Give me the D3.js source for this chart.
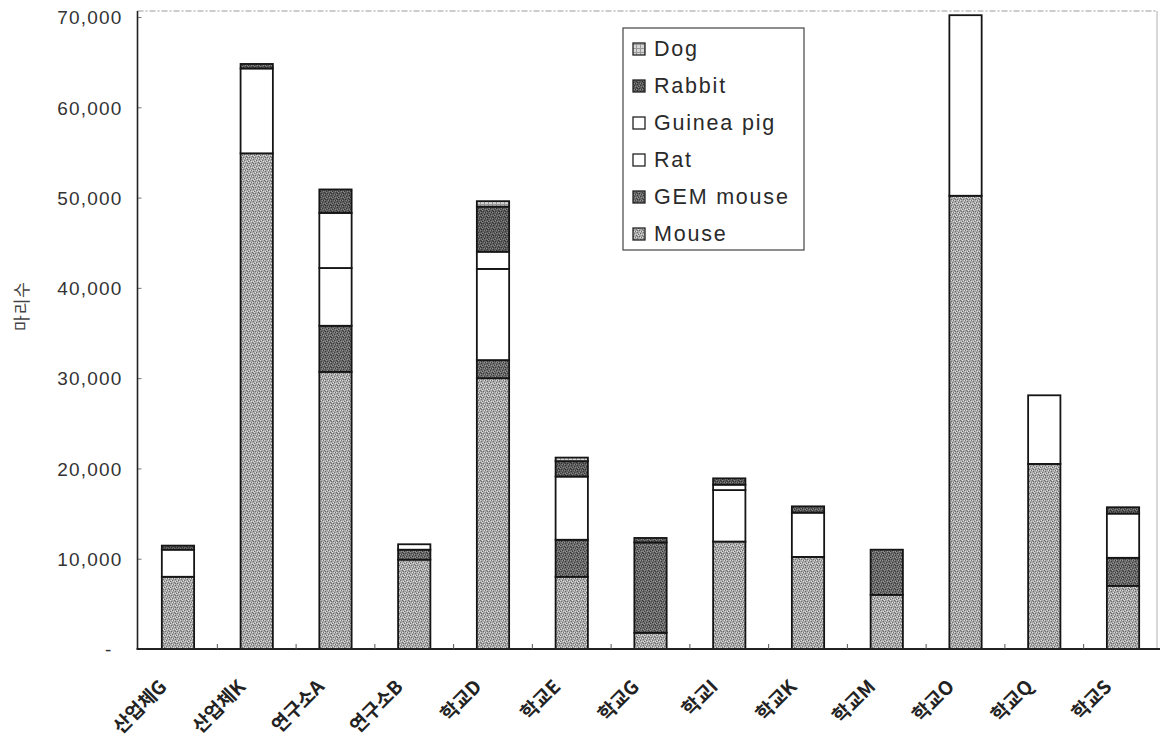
<!DOCTYPE html>
<html>
<head>
<meta charset="utf-8">
<script src="https://cdn.jsdelivr.net/npm/d3@7"></script>
<style>
  body { margin: 0; background: #fff; }
  svg { display: block; }
</style>
</head>
<body>
<svg id="chart" width="1160" height="746"></svg>
<script>
// Laboratory animals used per institution (head count), stacked by species
const categories = ["산업체G", "산업체K", "연구소A", "연구소B", "학교D", "학교E", "학교G",
                    "학교I", "학교K", "학교M", "학교O", "학교Q", "학교S"];
const mouse     = [8000, 54900, 30700, 9900, 30000, 8000, 1800, 11900, 10200, 6000, 50200, 20500, 7000];
const gemMouse  = [0, 0, 5100, 1100, 2000, 4100, 10000, 0, 0, 5000, 0, 0, 3100];
const rat       = [3000, 9400, 6400, 600, 10100, 7000, 0, 5700, 4900, 0, 20000, 7600, 4900];
const guineaPig = [0, 0, 6100, 0, 1900, 0, 0, 600, 0, 0, 0, 0, 0];
const rabbit    = [450, 500, 2600, 0, 5000, 1700, 500, 700, 700, 0, 0, 0, 700];
const dog       = [0, 0, 0, 0, 600, 400, 0, 0, 0, 0, 0, 0, 0];

const seriesKeys = ["Mouse", "GEM mouse", "Rat", "Guinea pig", "Rabbit", "Dog"];
const seriesValues = [mouse, gemMouse, rat, guineaPig, rabbit, dog];
const yTicks = [0, 10000, 20000, 30000, 40000, 50000, 60000, 70000];
const yTitle = "마리수";

const table = categories.map((c, i) => {
  const row = { category: c };
  seriesKeys.forEach((k, j) => { row[k] = seriesValues[j][i]; });
  return row;
});

const svg = d3.select("#chart");

const x = d3.scaleBand()
  .domain(categories)
  .range([138.6, 1162.4])
  .paddingInner(0.59)
  .paddingOuter(0.295);

const y = d3.scaleLinear().domain([0, 70000]).range([649, 17]);

// ---- fill textures (stippled greys like a printed chart) ----
const defs = svg.append("defs");
function stipple(id, base, dark, light) {
  const p = defs.append("pattern")
    .attr("id", id).attr("patternUnits", "userSpaceOnUse")
    .attr("width", 6).attr("height", 6);
  p.append("rect").attr("width", 6).attr("height", 6).attr("fill", base);
  [[0,0],[3,1],[1,3],[4,4],[2,5],[5,2],[1,1]].forEach(([a,b]) =>
    p.append("rect").attr("x", a).attr("y", b).attr("width", 1).attr("height", 1).attr("fill", dark));
  [[2,0],[0,2],[4,2],[3,4],[1,5],[5,5]].forEach(([a,b]) =>
    p.append("rect").attr("x", a).attr("y", b).attr("width", 1).attr("height", 1).attr("fill", light));
}
stipple("pMouse", "#a9a9a9", "#6c6c6c", "#dedede");
stipple("pGem", "#6a6a6a", "#3a3a3a", "#969696");
stipple("pRabbit", "#5c5c5c", "#333333", "#888888");
(function dogPattern() {
  const p = defs.append("pattern")
    .attr("id", "pDog").attr("patternUnits", "userSpaceOnUse")
    .attr("width", 4).attr("height", 4);
  p.append("rect").attr("width", 4).attr("height", 4).attr("fill", "#d6d6d6");
  p.append("rect").attr("width", 4).attr("height", 1).attr("fill", "#9a9a9a");
  p.append("rect").attr("width", 1).attr("height", 4).attr("fill", "#9a9a9a");
})();

const fills = {
  "Mouse": "url(#pMouse)",
  "GEM mouse": "url(#pGem)",
  "Rat": "#ffffff",
  "Guinea pig": "#ffffff",
  "Rabbit": "url(#pRabbit)",
  "Dog": "url(#pDog)"
};

// ---- plot frame ----
const frameTop = 11, frameLeft = 137.5, frameRight = 1157, baseY = 649;
svg.append("line").attr("x1", frameLeft).attr("x2", frameRight)
  .attr("y1", frameTop).attr("y2", frameTop)
  .attr("stroke", "#9a9a9a").attr("stroke-width", 1.2).attr("stroke-dasharray", "6 2 2 2");
svg.append("line").attr("x1", frameRight).attr("x2", frameRight)
  .attr("y1", frameTop).attr("y2", baseY)
  .attr("stroke", "#b0b0b0").attr("stroke-width", 1);

// ---- y axis ----
const yAxis = d3.axisLeft(y)
  .tickValues(yTicks)
  .tickSizeInner(-4)
  .tickSizeOuter(0)
  .tickPadding(15)
  .tickFormat(v => v === 0 ? "-" : d3.format(",")(v));

const gy = svg.append("g").attr("transform", `translate(${frameLeft},0)`).call(yAxis);
gy.select(".domain").remove();
gy.selectAll(".tick line").attr("stroke", "#777").attr("stroke-width", 1);
gy.selectAll(".tick text")
  .attr("font-family", "'Liberation Sans', Arial, sans-serif")
  .attr("font-size", 19)
  .attr("letter-spacing", "1.2px")
  .attr("fill", "#333")
  .attr("dy", "0.36em")
  .attr("dx", d => d === 0 ? -10 : 0);

svg.append("line").attr("x1", frameLeft).attr("x2", frameLeft)
  .attr("y1", frameTop).attr("y2", baseY)
  .attr("stroke", "#222").attr("stroke-width", 1.6);

svg.append("text")
  .attr("transform", "translate(28,306) rotate(-90)")
  .attr("text-anchor", "middle")
  .attr("font-family", "'Noto Sans CJK KR', sans-serif")
  .attr("font-size", 17)
  .attr("letter-spacing", "1px")
  .attr("fill", "#444")
  .text(yTitle);

// ---- stacked bars ----
const stacked = d3.stack().keys(seriesKeys)(table);

svg.append("g").selectAll("g")
  .data(stacked)
  .join("g")
  .attr("fill", d => fills[d.key])
  .selectAll("rect")
  .data(d => d.filter(s => s[1] - s[0] > 0))
  .join("rect")
  .attr("x", d => x(d.data.category))
  .attr("width", x.bandwidth())
  .attr("y", d => y(d[1]))
  .attr("height", d => y(d[0]) - y(d[1]))
  .attr("stroke", "#151515")
  .attr("stroke-width", 1.8);

// ---- x axis: baseline, separators and slanted category labels ----
svg.append("line").attr("x1", frameLeft - 1).attr("x2", 1160)
  .attr("y1", baseY).attr("y2", baseY)
  .attr("stroke", "#222").attr("stroke-width", 2);

svg.append("g").selectAll("line")
  .data(categories.slice(1))
  .join("line")
  .attr("x1", d => x(d) - x.step() * x.paddingInner() / 2)
  .attr("x2", d => x(d) - x.step() * x.paddingInner() / 2)
  .attr("y1", baseY).attr("y2", baseY - 5)
  .attr("stroke", "#555").attr("stroke-width", 1);

// Slanted labels: every glyph is placed along a 45° line ending just left of
// the bar centre and turned by the same angle.
const labelFont = { family: "'Noto Sans CJK KR', sans-serif", weight: 700, size: 19 };
const gLabels = svg.append("g")
  .attr("font-family", labelFont.family)
  .attr("font-weight", labelFont.weight)
  .attr("font-size", labelFont.size)
  .attr("fill", "#222");

categories.forEach(cat => {
  const t = gLabels.append("text").attr("x", 0).attr("y", 0).text(cat);
  const node = t.node();
  const n = cat.length;
  const total = node.getComputedTextLength();
  const starts = d3.range(n).map(i => node.getStartPositionOfChar(i).x);
  const px = x(cat) + x.bandwidth() / 2 - 10, py = baseY + 39;
  const ux = Math.SQRT1_2, uy = -Math.SQRT1_2;
  const xs = starts.map(s => px + (s - total) * ux);
  const ys = starts.map(s => py + (s - total) * uy);
  t.attr("x", xs.map(v => v.toFixed(2)).join(" "))
   .attr("y", ys.map(v => v.toFixed(2)).join(" "))
   .attr("rotate", d3.range(n).map(() => -45).join(" "));
});

// ---- legend ----
const legendKeys = seriesKeys.slice().reverse();
const lg = svg.append("g");
lg.append("rect")
  .attr("x", 623).attr("y", 28).attr("width", 181).attr("height", 222)
  .attr("fill", "#fff").attr("stroke", "#444").attr("stroke-width", 1.2);

const item = lg.selectAll("g.item")
  .data(legendKeys)
  .join("g")
  .attr("class", "item")
  .attr("transform", (d, i) => `translate(0,${56 + i * 37})`);

item.append("rect")
  .attr("x", 633).attr("y", -13).attr("width", 12).attr("height", 12)
  .attr("fill", d => fills[d])
  .attr("stroke", "#222").attr("stroke-width", 1.3);

item.append("text")
  .attr("x", 654).attr("y", 0)
  .attr("font-family", "'Liberation Sans', Arial, sans-serif")
  .attr("font-size", 21.5)
  .attr("letter-spacing", "1.8px")
  .attr("fill", "#2a2a2a")
  .text(d => d);
</script>
</body>
</html>
